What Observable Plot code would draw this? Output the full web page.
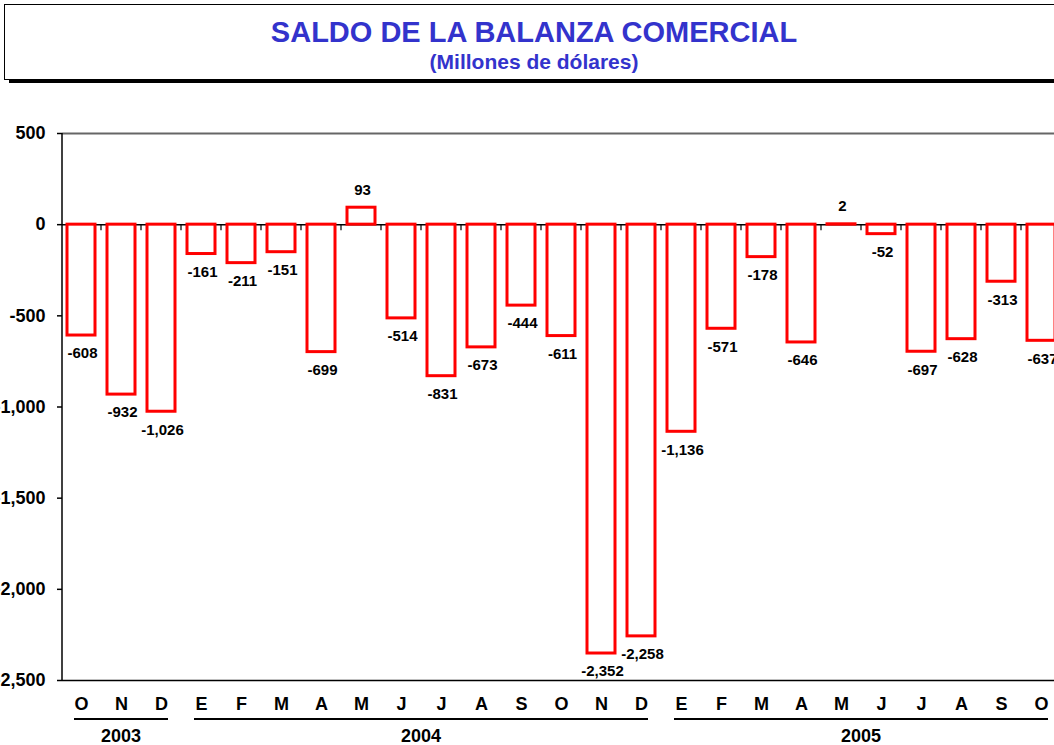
<!DOCTYPE html>
<html>
<head>
<meta charset="utf-8">
<script src="https://cdn.jsdelivr.net/npm/d3@7"></script>
<script src="https://cdn.jsdelivr.net/npm/@observablehq/plot@0.6"></script>
<style>
html, body { margin: 0; padding: 0; width: 1054px; height: 745px; overflow: hidden; background: #fff; font-family: "Liberation Sans", Arial, sans-serif; }
#titlebox { position: absolute; left: 4px; top: 4px; width: 1060px; height: 76px; box-sizing: border-box; border: 1.5px solid #000; box-shadow: 5px 3px 0 #000; background: #fff; }
.ttl { position: absolute; left: 4px; width: 1060px; text-align: center; font-weight: bold; color: #3333cc; line-height: 1; white-space: nowrap; }
#title { top: 18px; font-size: 29px; }
#subtitle { top: 51px; font-size: 21px; }
#chart { position: absolute; left: 0; top: 90px; }
</style>
</head>
<body>
<div id="titlebox"></div>
<div class="ttl" id="title">SALDO DE LA BALANZA COMERCIAL</div>
<div class="ttl" id="subtitle">(Millones de dólares)</div>
<div id="chart"></div>
<script>
// ---- data ----
const months = ["O","N","D","E","F","M","A","M","J","J","A","S","O","N","D","E","F","M","A","M","J","J","A","S","O"];
const years  = ["2003","2003","2003",
                "2004","2004","2004","2004","2004","2004","2004","2004","2004","2004","2004","2004",
                "2005","2005","2005","2005","2005","2005","2005","2005","2005","2005"];
const values = [-608,-932,-1026,-161,-211,-151,-699,93,-514,-831,-673,-444,-611,-2352,-2258,-1136,-571,-178,-646,2,-52,-697,-628,-313,-637];
const yearLabels = ["2003","2004","2005"];
const yTicks = [500,0,-500,-1000,-1500,-2000,-2500];

const keys = values.map((v, i) => years[i] + "-" + String(i).padStart(2, "0"));
const data = values.map((v, i) => ({key: keys[i], month: months[i], year: years[i], value: v}));

const fmt = v => d3.format(",")(v).replace("\u2212", "-");

function structure(index, scales, vals, dims) {
  const x = scales.x, y = scales.y;
  const bw = x.bandwidth ? x.bandwidth() : (x(keys[1]) - x(keys[0])) * 0.7;
  const g = d3.create("svg:g");
  g.append("line")
    .attr("x1", dims.marginLeft).attr("x2", dims.marginLeft)
    .attr("y1", y(500)).attr("y2", y(-2500))
    .attr("stroke", "#000").attr("stroke-width", 1.5);
  for (let i = 0; i < keys.length - 1; i++) {
    const bx = (x(keys[i]) + bw + x(keys[i + 1])) / 2;
    g.append("line")
      .attr("x1", bx).attr("x2", bx)
      .attr("y1", y(0)).attr("y2", y(0) + 6)
      .attr("stroke", "#000").attr("stroke-width", 1.2);
  }
  return g.node();
}

function yearGroups(index, scales, vals, dims) {
  const x = scales.x;
  const bw = x.bandwidth ? x.bandwidth() : (x(keys[1]) - x(keys[0])) * 0.7;
  const base = dims.height - dims.marginBottom;
  const g = d3.create("svg:g");
  for (const yr of yearLabels) {
    const ks = data.filter(d => d.year === yr).map(d => d.key);
    const x0 = x(ks[0]) + 7;
    const x1 = x(ks[ks.length - 1]) + bw - 7;
    g.append("line")
      .attr("x1", x0).attr("x2", x1)
      .attr("y1", base + 39).attr("y2", base + 39)
      .attr("stroke", "#000").attr("stroke-width", 2);
    g.append("text")
      .attr("x", (x0 + x1) / 2).attr("y", base + 62)
      .attr("text-anchor", "middle")
      .attr("font-size", 18).attr("font-weight", "bold")
      .attr("fill", "#000")
      .text(yr);
  }
  return g.node();
}

const chart = Plot.plot({
  width: 1054,
  height: 655,
  marginLeft: 62,
  marginRight: 0,
  marginTop: 43,
  marginBottom: 65,
  style: {fontFamily: "'Liberation Sans', Arial, sans-serif", overflow: "visible", background: "transparent", color: "#000"},
  x: {type: "band", domain: keys, range: [61, 1061], paddingInner: 0.3, paddingOuter: 0.15, axis: null},
  y: {domain: [-2500, 500], range: [590, 43], axis: null},
  marks: [
    Plot.ruleY([500], {stroke: "#666", strokeWidth: 2}),
    Plot.ruleY([-2500], {stroke: "#000", strokeWidth: 1.5}),
    Plot.ruleY([0], {stroke: "#000", strokeWidth: 1.5}),
    Plot.axisY(yTicks, {anchor: "left", tickSize: 5, tickPadding: 12, tickFormat: fmt, fontSize: 18, fontWeight: "bold", strokeWidth: 1.5, label: null}),
    structure,
    Plot.barY(data, {x: "key", y: "value", fill: "white", stroke: "#ff0000", strokeWidth: 3}),
    Plot.text(data.filter(d => d.value < 0), {x: "key", y: "value", text: d => fmt(d.value), dy: 18, dx: 1, fontSize: 15, fontWeight: "bold", fill: "#000"}),
    Plot.text(data.filter(d => d.value >= 0), {x: "key", y: "value", text: d => fmt(d.value), dy: -18, dx: 1, fontSize: 15, fontWeight: "bold", fill: "#000"}),
    Plot.text(data, {x: "key", text: "month", frameAnchor: "bottom", dy: 29, fontSize: 18, fontWeight: "bold", fill: "#000"}),
    yearGroups
  ]
});
document.getElementById("chart").appendChild(chart);
</script>
</body>
</html>
